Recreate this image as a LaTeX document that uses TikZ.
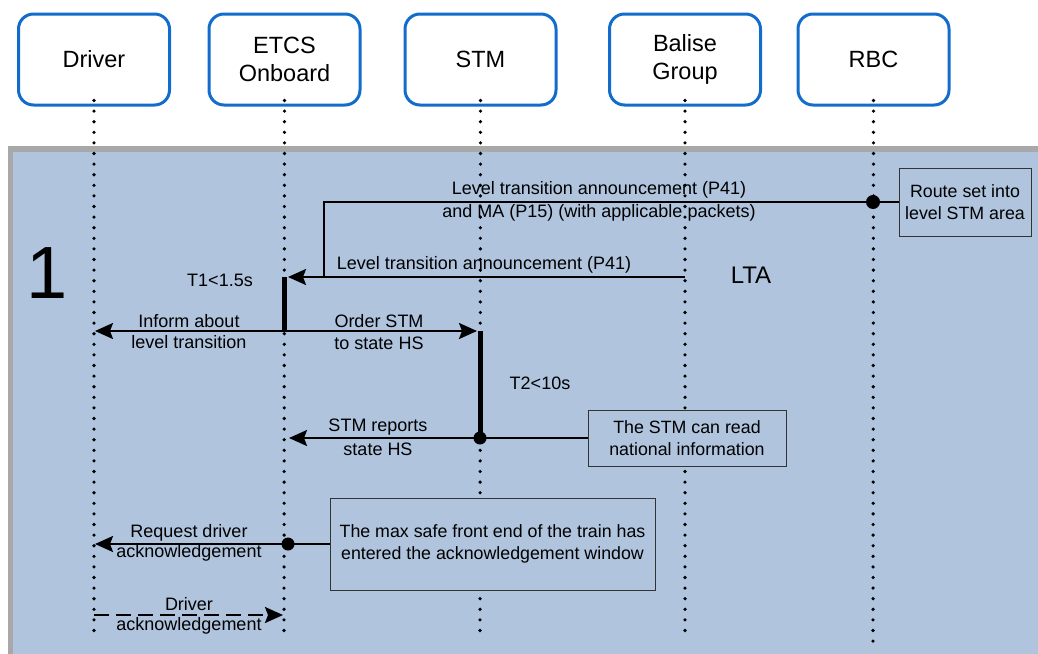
\documentclass[tikz,border=0pt]{standalone}
\usepackage{fontspec}
\setmainfont{Liberation Sans}
\usetikzlibrary{arrows.meta}
\definecolor{panel}{RGB}{176,196,222}
\definecolor{framegray}{RGB}{168,168,168}
\definecolor{hdr}{RGB}{18,108,204}
\begin{document}
\begin{tikzpicture}[x=1pt,y=-1pt,
 actor/.style={draw=hdr, line width=3pt, rounded corners=15pt, minimum width=151pt, minimum height=91pt, align=center, font=\fontsize{23.5}{28}\selectfont, fill=white, inner sep=0pt},
 lifeline/.style={line width=3.6pt, dash pattern=on 0pt off 10.6pt, line cap=round},
 wire/.style={line width=2pt},
 msg/.style={line width=2pt, -{Stealth[length=18pt,width=16pt,inset=3pt]}},
 lbl/.style={font=\fontsize{18}{21}\selectfont, inner sep=0pt},
 note/.style={draw=black!80, fill=panel, line width=1pt, align=center, font=\fontsize{17.8}{22}\selectfont, inner sep=0pt},
 actbar/.style={line width=5pt},
 dotc/.style={circle, fill=black, inner sep=0pt, minimum size=14pt},
]
\useasboundingbox (0,0) rectangle (1038,653);
% panel
\fill[framegray] (8,146) rectangle (1045,660);
\fill[panel] (13,152) rectangle (1045,660);
% actors
\node[actor] (driver) at (94,59.5) {Driver};
\node[actor] (etcs) at (284.5,59.5) {ETCS\\Onboard};
\node[actor] (stm) at (480.5,59.5) {STM};
\node[actor] (balise) at (685,59.5) {Balise\\Group};
\node[actor] (rbc) at (873.5,59.5) {RBC};
% lifeline ends
\coordinate (driverE) at (94,636);
\coordinate (etcsE) at (284,636);
\coordinate (stmE) at (480,636);
\coordinate (baliseE) at (685,636);
\coordinate (rbcE) at (873,646);
\draw[lifeline] ([yshift=6pt]driver.south) -- (driverE);
\draw[lifeline] ([yshift=6pt]etcs.south) -- (etcsE);
\draw[lifeline] ([yshift=6pt]stm.south) -- (stmE);
\draw[lifeline] ([yshift=6pt]balise.south) -- (baliseE);
\draw[lifeline] ([yshift=6pt]rbc.south) -- (rbcE);
% texts
\node[font=\fontsize{74}{74}\selectfont, inner sep=0pt] (one) at (47,273) {1};
\node[font=\fontsize{24}{28}\selectfont, inner sep=0pt] (lta) at (751,275) {LTA};
% notes
\node[note, minimum width=132pt, minimum height=68pt] (routeNote) at (965,202) {Route set into\\level STM area};
\node[note, minimum width=198pt, minimum height=56pt] (stmNote) at (687,438) {The STM can read\\national information};
\node[note, minimum width=325pt, minimum height=92pt] (maxNote) at (492.5,544) {The max safe front end of the train has\\entered the acknowledgement window};
% coordinates
\node[dotc] (rbcDot) at (873,202) {};
\coordinate (corner1) at (324,202);
\coordinate (corner2) at (324,277);
\coordinate (bal1) at (685,277);
\coordinate (etcs1) at (288,277);
\coordinate (etcsBarTop) at (284,277);
\coordinate (etcsBarBot) at (284,331);
\coordinate (drv1) at (95,331);
\coordinate (stm1) at (477,331);
\coordinate (stmBarTop) at (480,331);
\node[dotc, minimum size=13pt] (stmDot) at (480,438) {};
\coordinate (etcs2) at (289,438);
\node[dotc, minimum size=13pt] (etcsDot) at (288,544) {};
\coordinate (drv2) at (95,544);
\coordinate (drv3) at (94,615);
\coordinate (etcs3) at (283,615);
% message 1: RBC
\draw[wire] (routeNote.west) -- (rbcDot.center);
\draw[wire] (rbcDot.center) -- (corner1) -- (corner2);
\node[lbl] (m1a) at (599,190) {Level transition announcement (P41)};
\node[lbl] (m1b) at (599,213) {and MA (P15) (with applicable packets)};
% message 2: balise
\draw[msg] (bal1) -- (etcs1);
\node[lbl] (m2) at (484,265) {Level transition announcement (P41)};
% ETCS activation
\draw[actbar] (etcsBarTop) -- (etcsBarBot);
\node[lbl] (t1) at (220,280) {T1<1.5s};
\draw[msg] (etcsBarBot) -- (drv1);
\node[lbl] (m3a) at (189,321) {Inform about};
\node[lbl] (m3b) at (189,342) {level transition};
\draw[msg] (etcsBarBot) -- (stm1);
\node[lbl] (m4a) at (379,321) {Order STM};
\node[lbl] (m4b) at (379,343) {to state HS};
% STM activation
\draw[actbar] (stmBarTop) -- (stmDot.center);
\node[lbl] (t2) at (540,383) {T2<10s};
\draw[wire] (stmNote.west) -- (stmDot.center);
\draw[msg] (stmDot.center) -- (etcs2);
\node[lbl] (m5a) at (378,427) {STM reports};
\node[lbl] (m5b) at (378,449) {state HS};
% request ack
\draw[wire] (maxNote.west) -- (etcsDot.center);
\draw[msg] (etcsDot.center) -- (drv2);
\node[lbl] (m6a) at (189,533) {Request driver};
\node[lbl] (m6b) at (189,553) {acknowledgement};
% driver ack
\draw[msg, dash pattern=on 15pt off 7pt] (drv3) -- (etcs3);
\node[lbl] (m7a) at (189,604) {Driver};
\node[lbl] (m7b) at (189,626) {acknowledgement};
\end{tikzpicture}
\end{document}
